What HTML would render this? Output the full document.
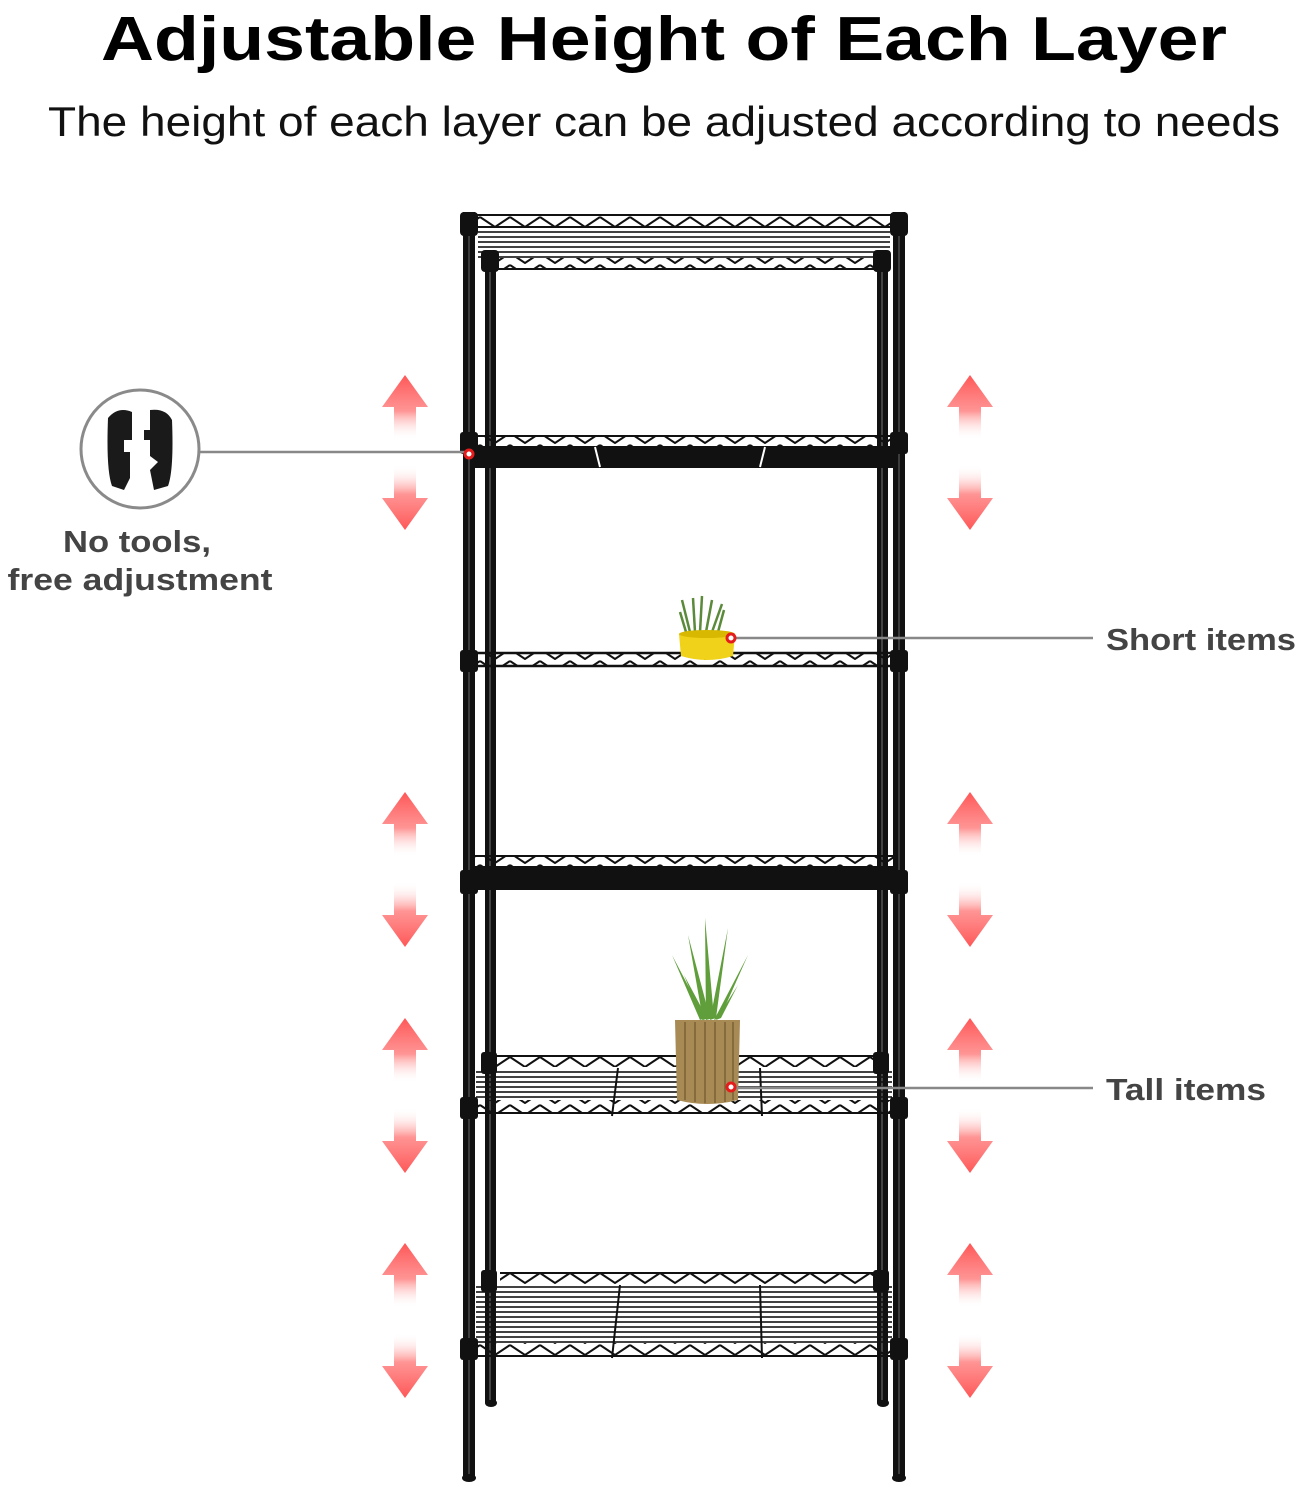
<!DOCTYPE html>
<html><head><meta charset="utf-8"><style>
html,body{margin:0;padding:0;background:#fff;}
svg{display:block;}
</style></head><body>
<svg width="1298" height="1492" viewBox="0 0 1298 1492" xmlns="http://www.w3.org/2000/svg">
<defs>
<pattern id="zz" width="30" height="12" patternUnits="userSpaceOnUse">
<path d="M0,1 L15,11 L30,1" fill="none" stroke="#111" stroke-width="2"/>
</pattern>
<pattern id="wr" width="10" height="5" patternUnits="userSpaceOnUse">
<line x1="0" y1="2" x2="10" y2="2" stroke="#111" stroke-width="1.6"/>
</pattern>
<linearGradient id="gu" x1="0" y1="0" x2="0" y2="1">
<stop offset="0" stop-color="#f44" stop-opacity="0.9"/><stop offset="0.55" stop-color="#f66" stop-opacity="0.7"/><stop offset="1" stop-color="#fff" stop-opacity="0"/>
</linearGradient>
<linearGradient id="gd" x1="0" y1="1" x2="0" y2="0">
<stop offset="0" stop-color="#f44" stop-opacity="0.9"/><stop offset="0.55" stop-color="#f66" stop-opacity="0.7"/><stop offset="1" stop-color="#fff" stop-opacity="0"/>
</linearGradient>
<g id="arr">
<path d="M0,0 L23,32 L11,32 L11,65 L-11,65 L-11,32 L-23,32 Z" fill="url(#gu)"/>
<path d="M0,155 L23,123 L11,123 L11,90 L-11,90 L-11,123 L-23,123 Z" fill="url(#gd)"/>
</g>
</defs>

<text x="664" y="60" text-anchor="middle" font-family="Liberation Sans, sans-serif" font-weight="bold" font-size="62" textLength="1126" lengthAdjust="spacingAndGlyphs" fill="#000">Adjustable Height of Each Layer</text>
<text x="664" y="136" text-anchor="middle" font-family="Liberation Sans, sans-serif" font-size="42" textLength="1232" lengthAdjust="spacingAndGlyphs" fill="#111">The height of each layer can be adjusted according to needs</text>

<!-- arrows -->
<use href="#arr" x="405" y="375"/><use href="#arr" x="970" y="375"/>
<use href="#arr" x="405" y="792"/><use href="#arr" x="970" y="792"/>
<use href="#arr" x="405" y="1018"/><use href="#arr" x="970" y="1018"/>
<use href="#arr" x="405" y="1243"/><use href="#arr" x="970" y="1243"/>

<!-- back posts -->
<rect x="485" y="255" width="11" height="1148" fill="#111"/>
<rect x="877" y="255" width="11" height="1148" fill="#111"/>
<ellipse cx="491" cy="1403" rx="6" ry="4" fill="#111"/>
<ellipse cx="883" cy="1403" rx="6" ry="4" fill="#111"/>
<line x1="490" y1="255" x2="490" y2="1400" stroke="#777" stroke-width="1"/>
<line x1="882" y1="255" x2="882" y2="1400" stroke="#777" stroke-width="1"/>

<!-- shelf 1 -->
<rect x="475" y="214" width="418" height="12" fill="url(#zz)"/>
<line x1="475" y1="215" x2="893" y2="215" stroke="#111" stroke-width="2"/>
<line x1="475" y1="227" x2="893" y2="227" stroke="#111" stroke-width="2"/>
<rect x="478" y="228" width="412" height="32" fill="url(#wr)"/>
<rect x="490" y="258" width="390" height="10" fill="url(#zz)"/>
<line x1="490" y1="269" x2="880" y2="269" stroke="#111" stroke-width="2"/>
<!-- shelf 2 -->
<rect x="475" y="435" width="418" height="12" fill="url(#zz)"/>
<line x1="475" y1="436" x2="893" y2="436" stroke="#111" stroke-width="2"/>
<rect x="475" y="446" width="418" height="22" fill="#111"/>
<line x1="595" y1="447" x2="600" y2="467" stroke="#fff" stroke-width="2"/>
<line x1="765" y1="447" x2="760" y2="467" stroke="#fff" stroke-width="2"/>
<!-- shelf 3 -->
<rect x="475" y="653" width="418" height="12" fill="url(#zz)"/>
<line x1="475" y1="653" x2="893" y2="653" stroke="#111" stroke-width="2.5"/>
<line x1="475" y1="666" x2="893" y2="666" stroke="#111" stroke-width="2.5"/>
<!-- shelf 4 -->
<rect x="475" y="855" width="418" height="12" fill="url(#zz)"/>
<line x1="475" y1="856" x2="893" y2="856" stroke="#111" stroke-width="2"/>
<rect x="475" y="866" width="418" height="24" fill="#111"/>
<!-- shelf 5 -->
<rect x="485" y="1055" width="400" height="12" fill="url(#zz)"/>
<line x1="485" y1="1056" x2="885" y2="1056" stroke="#111" stroke-width="2"/>
<rect x="476" y="1068" width="416" height="32" fill="url(#wr)"/>
<rect x="476" y="1100" width="416" height="12" fill="url(#zz)"/>
<line x1="476" y1="1113" x2="892" y2="1113" stroke="#111" stroke-width="2"/>
<line x1="618" y1="1068" x2="612" y2="1116" stroke="#111" stroke-width="2"/>
<line x1="760" y1="1068" x2="762" y2="1116" stroke="#111" stroke-width="2"/>
<!-- shelf 6 -->
<rect x="500" y="1272" width="380" height="12" fill="url(#zz)"/>
<line x1="500" y1="1273" x2="880" y2="1273" stroke="#111" stroke-width="2"/>
<rect x="476" y="1285" width="416" height="58" fill="url(#wr)"/>
<rect x="476" y="1343" width="416" height="12" fill="url(#zz)"/>
<line x1="476" y1="1356" x2="892" y2="1356" stroke="#111" stroke-width="2"/>
<line x1="620" y1="1285" x2="612" y2="1358" stroke="#111" stroke-width="2"/>
<line x1="760" y1="1285" x2="762" y2="1358" stroke="#111" stroke-width="2"/>

<!-- front posts -->
<rect x="463" y="212" width="12" height="1266" fill="#111"/>
<rect x="893" y="212" width="12" height="1266" fill="#111"/>
<line x1="469" y1="215" x2="469" y2="1475" stroke="#666" stroke-width="1"/>
<line x1="899" y1="215" x2="899" y2="1475" stroke="#666" stroke-width="1"/>
<ellipse cx="469" cy="1478" rx="7" ry="4" fill="#111"/>
<ellipse cx="899" cy="1478" rx="7" ry="4" fill="#111"/>
<!-- collars -->
<g fill="#111">
<rect x="460" y="212" width="18" height="24" rx="4"/><rect x="890" y="212" width="18" height="24" rx="4"/>
<rect x="460" y="432" width="18" height="22" rx="3"/><rect x="890" y="432" width="18" height="22" rx="3"/>
<rect x="460" y="650" width="18" height="22" rx="3"/><rect x="890" y="650" width="18" height="22" rx="3"/>
<rect x="460" y="870" width="18" height="24" rx="3"/><rect x="890" y="870" width="18" height="24" rx="3"/>
<rect x="460" y="1097" width="18" height="22" rx="3"/><rect x="890" y="1097" width="18" height="22" rx="3"/>
<rect x="460" y="1338" width="18" height="22" rx="3"/><rect x="890" y="1338" width="18" height="22" rx="3"/>
<rect x="481" y="250" width="18" height="22" rx="4"/><rect x="873" y="250" width="18" height="22" rx="4"/>
<rect x="481" y="1052" width="16" height="22" rx="3"/><rect x="873" y="1052" width="16" height="22" rx="3"/>
<rect x="481" y="1270" width="16" height="22" rx="3"/><rect x="873" y="1270" width="16" height="22" rx="3"/>
</g>

<!-- short plant -->
<g stroke="#5a8a3a" stroke-width="2.5" fill="none">
<path d="M690,632 L682,600"/><path d="M695,632 L693,598"/><path d="M700,632 L702,596"/><path d="M706,632 L712,600"/><path d="M712,632 L722,604"/><path d="M718,632 L724,610"/><path d="M686,632 L680,612"/>
</g>
<path d="M679,634 L735,634 L733,656 Q707,664 681,656 Z" fill="#f0d21a"/>
<ellipse cx="707" cy="634" rx="28" ry="4" fill="#d8b800"/>

<!-- tall plant -->
<g fill="#5f9e3a">
<path d="M700,1020 L672,955 L705,1018 Z"/><path d="M703,1020 L688,935 L710,1018 Z"/>
<path d="M706,1020 L705,918 L714,1018 Z"/><path d="M710,1020 L728,928 L716,1018 Z"/>
<path d="M714,1020 L748,955 L720,1018 Z"/><path d="M702,1020 L684,975 L707,1018 Z"/>
<path d="M716,1020 L738,985 L721,1018 Z"/>
</g>
<path d="M675,1020 L740,1020 L738,1100 Q707,1108 677,1100 Z" fill="#a88a55"/>
<g stroke="#7a6235" stroke-width="1.5">
<line x1="685" y1="1022" x2="685" y2="1100"/><line x1="695" y1="1022" x2="695" y2="1102"/><line x1="705" y1="1022" x2="705" y2="1103"/><line x1="715" y1="1022" x2="715" y2="1103"/><line x1="725" y1="1022" x2="725" y2="1102"/><line x1="733" y1="1022" x2="733" y2="1100"/>
</g>

<!-- callouts -->
<circle cx="140" cy="449" r="59" fill="#fff" stroke="#8a8a8a" stroke-width="3"/>
<path d="M108,418 Q118,406 132,412 L132,440 L124,440 L124,452 L130,452 L130,478 L124,490 L112,486 Q106,470 108,418 Z" fill="#1a1a1a"/>
<path d="M150,410 Q166,408 172,420 Q174,470 168,486 L154,490 L150,470 L158,462 L150,456 L150,440 L144,440 L144,430 L150,430 Z" fill="#1a1a1a"/>
<line x1="200" y1="452" x2="469" y2="452" stroke="#888" stroke-width="2.5"/>
<circle cx="469" cy="454" r="4" fill="#fff" stroke="#e51c1c" stroke-width="3"/>
<text x="137" y="552" text-anchor="middle" font-family="Liberation Sans, sans-serif" font-weight="bold" font-size="31" fill="#444" textLength="148" lengthAdjust="spacingAndGlyphs">No tools,</text>
<text x="140" y="590" text-anchor="middle" font-family="Liberation Sans, sans-serif" font-weight="bold" font-size="31" fill="#444" textLength="265" lengthAdjust="spacingAndGlyphs">free adjustment</text>

<line x1="731" y1="638" x2="1093" y2="638" stroke="#888" stroke-width="2.5"/>
<circle cx="731" cy="638" r="4" fill="#fff" stroke="#e51c1c" stroke-width="3"/>
<text x="1106" y="650" font-family="Liberation Sans, sans-serif" font-weight="bold" font-size="31" fill="#444" textLength="190" lengthAdjust="spacingAndGlyphs">Short items</text>

<line x1="731" y1="1088" x2="1093" y2="1088" stroke="#888" stroke-width="2.5"/>
<circle cx="731" cy="1087" r="4" fill="#fff" stroke="#e51c1c" stroke-width="3"/>
<text x="1106" y="1100" font-family="Liberation Sans, sans-serif" font-weight="bold" font-size="31" fill="#444" textLength="160" lengthAdjust="spacingAndGlyphs">Tall items</text>
</svg>
</body></html>
